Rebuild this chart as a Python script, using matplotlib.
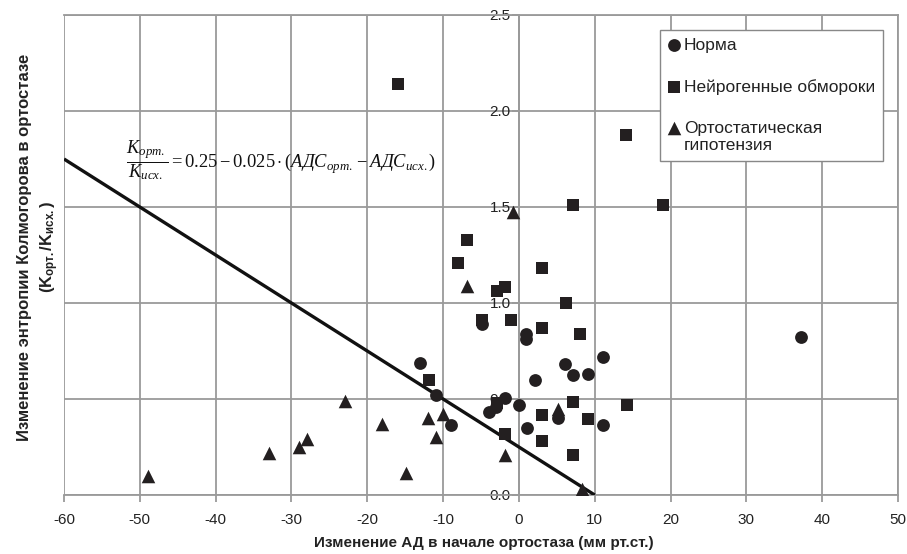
import matplotlib
matplotlib.use("Agg")
import matplotlib.pyplot as plt
import numpy as np

plt.rcParams['font.family'] = ['Liberation Sans', 'DejaVu Sans']
plt.rcParams['axes.unicode_minus'] = False
plt.rcParams['mathtext.fontset'] = 'custom'
plt.rcParams['mathtext.rm'] = 'Liberation Serif'
plt.rcParams['mathtext.it'] = 'Liberation Serif:italic'
plt.rcParams['mathtext.sf'] = 'Liberation Sans:bold'

# ---- data ----
norm_x = [-13, -11, -4.9, -8.9, -4, -3, -1.8, 0, 1, 1, 1.1, 2.1, 5.1, 6.1, 7.1, 9.1, 11.1, 11.1, 37.2]
norm_y = [0.69, 0.52, 0.89, 0.365, 0.43, 0.46, 0.505, 0.47, 0.84, 0.81, 0.35, 0.60, 0.40, 0.68, 0.625, 0.63, 0.72, 0.365, 0.825]

neuro_x = [-16, 14.1, 19, 7.1, -6.9, -8, 3.1, -1.9, -2.9, 6.2, -4.9, -1, 3.1, 8, -11.9, 7.1, 14.2, 3.1, 9.1, -2.9, -1.8, 3.1, 7.1]
neuro_y = [2.14, 1.875, 1.51, 1.51, 1.33, 1.21, 1.18, 1.085, 1.06, 1.0, 0.91, 0.91, 0.87, 0.84, 0.60, 0.485, 0.47, 0.415, 0.395, 0.48, 0.32, 0.28, 0.21]

ortho_x = [-48.9, -32.9, -29, -27.9, -23, -18, -14.9, -12, -10.9, -10, -6.9, -0.8, -1.8, 5.1, 8.3]
ortho_y = [0.10, 0.22, 0.25, 0.29, 0.49, 0.37, 0.115, 0.40, 0.30, 0.42, 1.09, 1.475, 0.21, 0.45, 0.03]

# regression line: K = 0.25 - 0.025 * dAD
line_intercept = 0.25
line_slope = -0.025
line_x = [-60, 10]

x_ticks = [-60, -50, -40, -30, -20, -10, 0, 10, 20, 30, 40, 50]
y_ticks = [0.0, 0.5, 1.0, 1.5, 2.0, 2.5]
y_tick_labels = ['0.0', '0.5', '1.0', '1.5', '2.0', '2.5']

legend_labels = ['Норма', 'Нейрогенные обмороки', 'Ортостатическая\nгипотензия']

# ---- figure ----
W, H = 907, 554
fig = plt.figure(figsize=(W / 100, H / 100), dpi=100)
ax = fig.add_axes([64 / W, 1 - 495 / H, (898 - 64) / W, (495 - 15) / H])

grid_c = '#9a9a9a'
mk_c = '#231f20'

ax.set_xlim(-60, 50)
ax.set_ylim(0, 2.5)
ax.set_xticks(x_ticks)
ax.set_yticks(y_ticks)
ax.set_yticklabels(y_tick_labels)
ax.grid(True, color=grid_c, lw=1.3, zorder=0)
ax.set_axisbelow(True)

for s in ['top', 'right', 'bottom']:
    ax.spines[s].set_color(grid_c)
    ax.spines[s].set_linewidth(1.3)
ax.spines['left'].set_position(('data', 0))
ax.spines['left'].set_color(grid_c)
ax.spines['left'].set_linewidth(1.3)

ax.tick_params(axis='x', direction='out', length=5, width=1.3, color=grid_c,
               labelsize=11, labelcolor='#222222', pad=8)
ax.tick_params(axis='y', direction='out', length=5, width=1.3, color=grid_c,
               labelsize=11, labelcolor='#222222', pad=1)

lx = np.array(line_x, dtype=float)
ax.plot(lx, line_intercept + line_slope * lx, color='#111111', lw=2.4, zorder=3,
        solid_capstyle='butt')

ax.scatter(norm_x, norm_y, marker='o', s=85, color=mk_c, zorder=4, label=legend_labels[0], linewidths=0)
ax.scatter(neuro_x, neuro_y, marker='s', s=80, color=mk_c, zorder=4, label=legend_labels[1], linewidths=0)
ax.scatter(ortho_x, ortho_y, marker='^', s=95, color=mk_c, zorder=4, label=legend_labels[2], linewidths=0)

leg = ax.legend(loc='upper right', bbox_to_anchor=(883 / W, 1 - 30 / H),
                bbox_transform=fig.transFigure, borderaxespad=0, fancybox=False,
                framealpha=1, edgecolor='#888888', fontsize=12.5, labelspacing=1.5,
                handletextpad=0.25, handlelength=0.7, borderpad=0.45, scatterpoints=1,
                markerscale=1.0)
leg.get_frame().set_linewidth(1.0)
for t in leg.get_texts():
    t.set_color('#222222')
# align handle of the two-line entry with its first line
try:
    for col in leg._legend_handle_box.get_children():
        items = col.get_children()
        items[-1].align = 'top'
except Exception:
    pass

# equation
eq = (r'$\dfrac{K_{орт.}}{K_{исх.}} = 0.25 - 0.025\cdot\left(АДС_{орт.} - АДС_{исх.}\right)$')
ax.text(-51.8, 1.745, eq, fontsize=13.3, ha='left', va='center', color='#111111', zorder=5)

# axis labels
fig.text(484 / W, 1 - 543 / H, 'Изменение АД в начале ортостаза (мм рт.ст.)',
         ha='center', va='center', fontsize=11, fontweight='bold', color='#222222')
fig.text(39 / W, 1 - 247 / H,
         'Изменение энтропии Колмогорова в ортостазе\n' +
         r'(K$_{\mathsf{орт.}}$/K$_{\mathsf{исх.}}$)',
         ha='center', va='center', rotation=90, fontsize=12, fontweight='bold',
         color='#222222', multialignment='center', linespacing=1.5)

fig.savefig('out.png', dpi=100)
